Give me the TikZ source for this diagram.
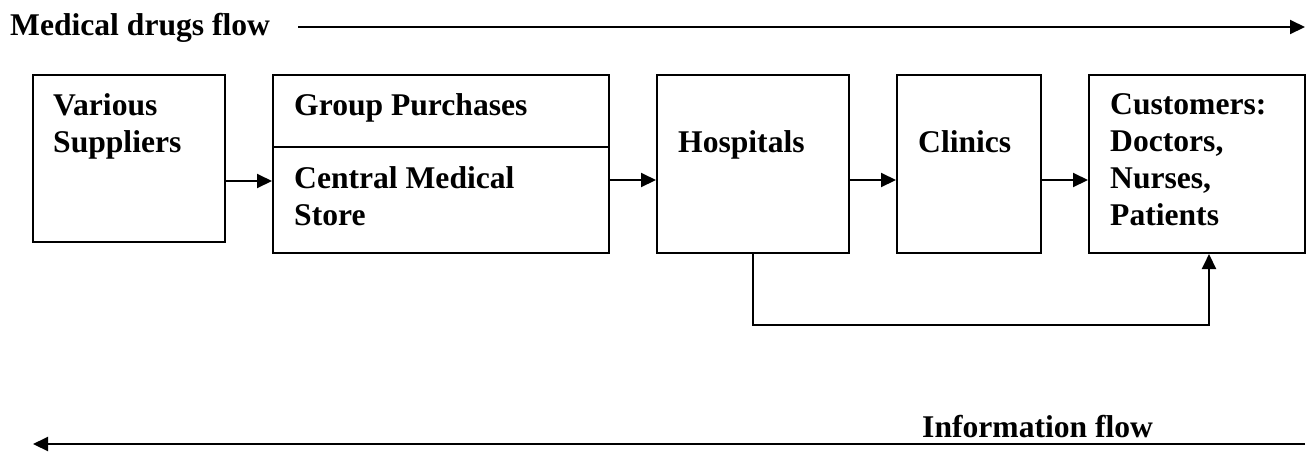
\documentclass[tikz,border=0pt]{standalone}
\usepackage{fontspec}
\setmainfont{Liberation Serif}
\usetikzlibrary{arrows.meta}
\begin{document}
\begin{tikzpicture}[x=1pt,y=-1pt,
  box/.style={draw, line width=2pt, rectangle, inner sep=0pt},
  lbl/.style={anchor=base west, inner sep=0pt, align=left, font=\fontsize{31.6}{36.8}\selectfont\bfseries},
  arr/.style={line width=2pt, -{Triangle[length=15pt,width=14pt]}},
  con/.style={line width=2pt}]
\useasboundingbox (0,0) rectangle (1311,451);
% boxes
\node[box, minimum width=192pt, minimum height=167pt] (vs) at (129,158.5) {};
\node[box, minimum width=336pt, minimum height=178pt] (grp) at (441,164) {};
\node[box, minimum width=192pt, minimum height=178pt] (hos) at (753,164) {};
\node[box, minimum width=144pt, minimum height=178pt] (cli) at (969,164) {};
\node[box, minimum width=216pt, minimum height=178pt] (cus) at (1197,164) {};
% divider in group box
\coordinate (dv) at (0,147);
\draw[line width=1.5pt] (grp.west |- dv) -- (grp.east |- dv);
% labels (multi-line nodes are anchored at the baseline of their last line)
\node[lbl] (tvs) at (53,152) {Various\\Suppliers};
\node[lbl] (tgp) at (294,115) {Group Purchases};
\node[lbl] (tcm) at (294,225) {Central Medical\\Store};
\node[lbl] (thos) at (678,152) {Hospitals};
\node[lbl] (tcli) at (918,152) {Clinics};
\node[lbl] (tcus) at (1110,225) {Customers:\\Doctors,\\Nurses,\\Patients};
% horizontal arrows
\coordinate (ay1) at (0,181);
\coordinate (ay2) at (0,180);
\draw[arr] (vs.east |- ay1) -- (grp.west |- ay1);
\draw[arr] (grp.east |- ay2) -- (hos.west |- ay2);
\draw[arr] (hos.east |- ay2) -- (cli.west |- ay2);
\draw[arr] (cli.east |- ay2) -- (cus.west |- ay2);
% loop from hospitals to customers
\coordinate (lp) at (1209,325);
\draw[arr] (hos.south) |- (lp) -- (lp |- cus.south);
% top flow
\node[lbl] (mdf) at (10,35) {Medical drugs flow};
\coordinate (t1) at (298,27);
\coordinate (t2) at (1305,27);
\draw[arr] (t1) -- (t2);
% bottom flow
\node[lbl] (inf) at (922,437) {Information flow};
\coordinate (b1) at (1305,444);
\coordinate (b0) at (33,444);
\draw[arr] (b1) -- (b0);
\end{tikzpicture}
\end{document}
